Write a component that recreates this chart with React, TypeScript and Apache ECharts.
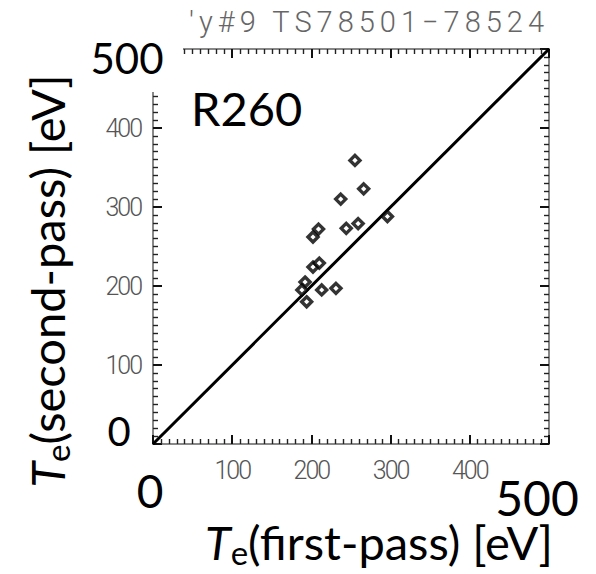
import React, { useEffect, useRef } from "react";
import * as echarts from "echarts";

// Te first-pass [eV] vs Te second-pass [eV]
const firstPass = [255, 266, 237, 209, 202, 244, 259, 296, 202, 210, 192, 188, 194, 213, 231];
const secondPass = [359, 323, 310, 272, 262, 273, 279, 288, 224, 229, 205, 195, 180, 195, 197];
const diagonalX = [0, 500];
const diagonalY = [0, 500];
const axisMin = 0;
const axisMax = 500;
const axisStep = 100;
const titleText = "'y#9 TS78501\u221278524";
const panelLabel = "R260";
const xTitle = "{t|T}{s|e}{m|(first-pass) [eV]}";
const yTitle = "{t|T}{s|e}{m|(second-pass) [eV]}";
const bigMinLabel = "0";
const bigMaxLabel = "500";

const BIG_FONT = "Lato, sans-serif";
const TICK_FONT = "Roboto, ztick";

function makeAxis(position: string, showLabel: boolean, isX: boolean) {
  return {
    type: "value",
    min: axisMin,
    max: axisMax,
    interval: axisStep,
    position,
    axisLine: { show: true, onZero: false, lineStyle: { color: "#888", width: 2 } },
    axisTick: { show: true, length: -9, lineStyle: { color: "#111", width: 2 } },
    minorTick: { show: true, splitNumber: 10, length: -5, lineStyle: { color: "#222", width: 1.4 } },
    splitLine: { show: false },
    axisLabel: {
      show: showLabel,
      margin: isX ? 14 : 12,
      fontSize: 25,
      fontWeight: 300,
      color: "#555",
      fontFamily: TICK_FONT,
      formatter: (v: number) => (v === axisMin || v === axisMax ? "" : String(v)),
    },
  };
}

export default function App() {
  const ref = useRef<HTMLDivElement>(null);
  useEffect(() => {
    if (!ref.current) return;
    const chart = echarts.init(ref.current, null, { renderer: "svg" });
    const richStyles = {
      t: { fontStyle: "italic", fontSize: 47, fontFamily: BIG_FONT, color: "#000", lineHeight: 36 },
      m: { fontSize: 47, fontFamily: BIG_FONT, color: "#000", lineHeight: 36 },
      s: { fontSize: 33, fontFamily: BIG_FONT, color: "#000", lineHeight: 26, padding: [20, 0, 0, 0] },
    };
    const bigText = (text: string, x: number, y: number, size: number, align = "center") => ({
      type: "text", z: 60, x, y,
      style: {
        text, textAlign: align, textVerticalAlign: "middle",
        font: `${size}px ${BIG_FONT}`, fill: "#000", lineHeight: Math.round(size * 0.75),
      },
    });
    chart.setOption({
      animation: false,
      backgroundColor: "#fff",
      grid: { left: 153, top: 49, width: 396, height: 395, containLabel: false },
      xAxis: [makeAxis("bottom", true, true), makeAxis("top", false, true)],
      yAxis: [makeAxis("left", true, false), makeAxis("right", false, false)],
      series: [
        {
          type: "line",
          data: diagonalX.map((x, i) => [x, diagonalY[i]]),
          showSymbol: false,
          symbol: "none",
          lineStyle: { color: "#000", width: 3 },
          z: 2,
        },
        {
          type: "scatter",
          data: firstPass.map((x, i) => [x, secondPass[i]]),
          symbol: "diamond",
          symbolSize: 10,
          itemStyle: { color: "#fff", borderColor: "#000", borderWidth: 3.4 },
          z: 3,
        },
      ],
      graphic: [
        { type: "rect", z: 50, shape: { x: 86, y: 0, width: 97, height: 92 }, style: { fill: "#fff" } },
        {
          type: "text", z: 60, x: 549, y: 22,
          style: { text: titleText, textAlign: "right", textVerticalAlign: "middle", font: "300 29px Roboto, ztitle", fill: "#666" },
        },
        bigText(bigMaxLabel, 127, 58, 42),
        bigText(bigMinLabel, 119, 431, 40),
        bigText(bigMinLabel, 150, 490, 46),
        bigText(bigMaxLabel, 537, 497, 48),
        bigText(panelLabel, 191, 108, 47, "left"),
        {
          type: "text", z: 60, x: 379, y: 542,
          style: {
            text: xTitle, rich: richStyles, textAlign: "center", textVerticalAlign: "middle",
            font: `47px ${BIG_FONT}`, fill: "#000", lineHeight: 36,
          },
        },
        {
          type: "text", z: 60, x: 47, y: 281, rotation: Math.PI / 2,
          style: {
            text: yTitle, rich: richStyles, textAlign: "center", textVerticalAlign: "middle",
            font: `47px ${BIG_FONT}`, fill: "#000", lineHeight: 36,
          },
        },
      ],
    });
    return () => chart.dispose();
  }, []);
  return (
    <>
      <style>{`text[style*="ztitle"]{letter-spacing:5px;} text[style*="ztick"]{letter-spacing:-2px;}`}</style>
      <div
        ref={ref}
        style={{ position: "absolute", left: 0, top: 0, width: 596, height: 574, background: "#fff" }}
      />
    </>
  );
}
